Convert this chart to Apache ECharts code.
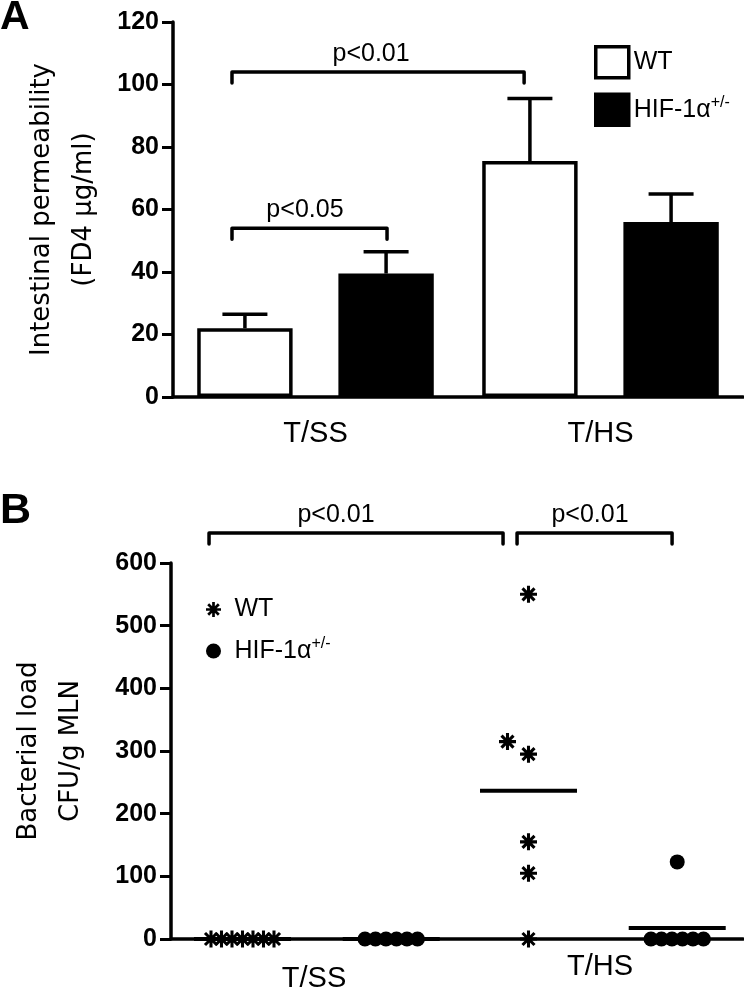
<!DOCTYPE html>
<html><head><meta charset="utf-8">
<script src="https://cdn.jsdelivr.net/npm/echarts@6/dist/echarts.min.js"></script>
<style>html,body{margin:0;padding:0;background:#fff}#c{width:744px;height:995px}</style>
</head><body><div id="c"></div>
<script>
// ---------- Panel A data ----------
const categories = ['T/SS', 'T/HS'];
const seriesNames = ['WT', 'HIF-1α+/-'];
const permWT = [22, 75.5];        // mean FD4 µg/ml
const permWTSem = [4.5, 20];      // error bar (up)
const permHIF = [39.5, 56];
const permHIFSem = [7, 9];
const yTicksA = [0, 20, 40, 60, 80, 100, 120];
const bracketsA = [
  { from: 0.207, to: 1.232, y: 104, text: 'p<0.01', textX: 0.695 },
  { from: 0.207, to: 0.751, y: 54, text: 'p<0.05', textX: 0.463 }
];

// ---------- Panel B data ----------
const loadWT = [
  [0, 0, 0, 0, 0, 0, 0],                 // T/SS
  [550, 315, 295, 155, 105, 0]           // T/HS
];
const loadHIF = [
  [0, 0, 0, 0, 0, 0],                    // T/SS
  [123, 0, 0, 0, 0, 0, 0]                // T/HS
];
const yTicksB = [0, 100, 200, 300, 400, 500, 600];
const bracketsB = [
  { from: 0.133, to: 1.161, y: 648, text: 'p<0.01', textX: 0.577 },
  { from: 1.21, to: 1.752, y: 648, text: 'p<0.01', textX: 1.465 }
];

// ---------- layout constants ----------
const gridA = { left: 173, right: 1, top: 22, height: 375 };
const gridB = { left: 171, right: 1, top: 563, height: 376 };
const W = 744;
const barCatGap = 0.17, barGapR = 0.48;
const barOffset = ((1 - barCatGap) / (2 + barGapR)) * (1 + barGapR) / 2; // in category units
const pxPerXB = (W - gridB.left - gridB.right) / 2;
const pxPerYB = gridB.height / (yTicksB[yTicksB.length - 1] - yTicksB[0]);
const stepPx = 10.5;
const LW = 3.5;
const FONT = '"Liberation Sans", Arial, sans-serif';
const TITLEFONT = '"DejaVu Sans", "Liberation Sans", sans-serif';

function asteriskPath() {
  const L = 10, Wd = 1.8; let d = '';
  for (const deg of [0, 45, 90, 135]) {
    const a = deg * Math.PI / 180, c = Math.cos(a), s = Math.sin(a);
    const pts = [[-Wd, -L], [Wd, -L], [Wd, L], [-Wd, L]].map(([x, y]) => [x * c - y * s, x * s + y * c]);
    d += 'M' + pts.map(p => p[0].toFixed(3) + ' ' + p[1].toFixed(3)).join(' L') + ' Z ';
  }
  return 'path://' + d;
}
const ASTER = asteriskPath();

// simple dodge (beeswarm) of points in one column, returns px offsets
function dodge(values) {
  const idx = values.map((v, i) => i).sort((a, b) => values[a] - values[b]);
  const off = new Array(values.length).fill(0);
  const placed = [];
  let i = 0;
  while (i < idx.length) {
    let j = i;
    while (j < idx.length && values[idx[j]] === values[idx[i]]) j++;
    const n = j - i;
    if (n > 1) {
      for (let k = 0; k < n; k++) {
        off[idx[i + k]] = (k - (n - 1) / 2) * stepPx;
        placed.push({ v: values[idx[i + k]], o: off[idx[i + k]] });
      }
    } else {
      const v = values[idx[i]];
      let chosen = 0;
      for (const c of [0, -2, 2, -4, 4].map(c => c * stepPx)) {
        if (!placed.some(p => Math.abs(p.v - v) * pxPerYB < 16 && Math.abs(p.o - c) < 2 * stepPx * 0.9)) { chosen = c; break; }
      }
      off[idx[i]] = chosen; placed.push({ v, o: chosen });
    }
    i = j;
  }
  return off;
}
const groupShift = [-0.26, 0.26];
function groupCenter(ci, gi) { return ci + 0.51 + groupShift[gi]; }
function scatterData(arrs, gi) {
  const out = [];
  arrs.forEach((vals, ci) => {
    const off = dodge(vals);
    vals.forEach((v, k) => out.push([groupCenter(ci, gi) + off[k] / pxPerXB, v]));
  });
  return out;
}
const mean = a => a.reduce((s, v) => s + v, 0) / a.length;
const meanData = [];
[loadWT, loadHIF].forEach((arrs, gi) => arrs.forEach((vals, ci) => meanData.push([groupCenter(ci, gi), mean(vals)])));

// error bar data: [x (value units), mean, top]
const errData = [];
categories.forEach((c, ci) => {
  errData.push([ci + 0.5 - barOffset, permWT[ci], permWT[ci] + permWTSem[ci]]);
  errData.push([ci + 0.5 + barOffset, permHIF[ci], permHIF[ci] + permHIFSem[ci]]);
});

function bracketRender(list) {
  return function (params, api) {
    const b = list[params.dataIndex];
    const p1 = api.coord([b.from, b.y]), p2 = api.coord([b.to, b.y]);
    const tx = api.coord([b.textX, b.y]);
    const tick = 11;
    return {
      type: 'group', children: [
        { type: 'polyline', shape: { points: [[p1[0], p1[1] + tick], [p1[0], p1[1]], [p2[0], p2[1]], [p2[0], p2[1] + tick]] },
          style: { stroke: '#000', lineWidth: LW, fill: 'none', lineJoin: 'round', lineCap: 'round' } },
        { type: 'text', style: { text: b.text, x: tx[0], y: p1[1] - 18, align: 'center', verticalAlign: 'middle',
          fontSize: 25, fontFamily: FONT, fill: '#000' } }
      ]
    };
  };
}

const richLegend = {
  a: { fontSize: 25, fontFamily: FONT, color: '#000', lineHeight: 30 },
  s: { fontSize: 16, fontFamily: FONT, color: '#000', verticalAlign: 'top', lineHeight: 14 }
};
function legendFmt(n) {
  if (n === 'HIF-1α+/-') return '{a|HIF-1α}{s|+/-}';
  return '{a|' + n + '}';
}

const yAxisCommon = {
  type: 'value',
  axisLine: { show: true, lineStyle: { color: '#000', width: LW } },
  axisTick: { show: true, length: 11, lineStyle: { color: '#000', width: 3 } },
  axisLabel: { margin: 14, color: '#000', fontSize: 25, fontWeight: 'bold', fontFamily: FONT },
  splitLine: { show: false },
  nameLocation: 'middle', nameRotate: 90,
  nameTextStyle: { fontFamily: TITLEFONT, fontSize: 26, lineHeight: 42, color: '#000' }
};

const option = {
  backgroundColor: '#fff',
  animation: false,
  grid: [
    { left: gridA.left, right: gridA.right, top: gridA.top, height: gridA.height },
    { left: gridB.left, right: gridB.right, top: gridB.top, height: gridB.height }
  ],
  xAxis: [
    { type: 'category', gridIndex: 0, data: categories,
      axisLine: { lineStyle: { color: '#000', width: LW } }, axisTick: { show: false },
      axisLabel: { margin: 22, color: '#000', fontSize: 29, fontFamily: FONT } },
    { type: 'value', gridIndex: 0, min: 0, max: 2, show: false },
    { type: 'category', gridIndex: 1, data: categories,
      axisLine: { lineStyle: { color: '#000', width: LW } }, axisTick: { show: false },
      axisLabel: { margin: 13, color: '#000', fontSize: 29, fontFamily: FONT,
        formatter: v => v === 'T/SS' ? '{lo|' + v + '}' : '{hi|' + v + '}',
        rich: { lo: { fontSize: 29, fontFamily: FONT, color: '#000', padding: [12, 0, 0, 0] },
                hi: { fontSize: 29, fontFamily: FONT, color: '#000' } } } },
    { type: 'value', gridIndex: 1, min: 0, max: 2, show: false }
  ],
  yAxis: [
    Object.assign({}, yAxisCommon, { gridIndex: 0, min: yTicksA[0], max: yTicksA[yTicksA.length - 1], interval: 20,
      name: 'Intestinal permeability\n(FD4 μg/ml)', nameGap: 68 }),
    Object.assign({}, yAxisCommon, { gridIndex: 1, min: yTicksB[0], max: yTicksB[yTicksB.length - 1], interval: 100,
      name: 'Bacterial load\nCFU/g MLN', nameGap: 79 })
  ],
  legend: [
    { orient: 'vertical', left: 589, top: 40, itemWidth: 33, itemHeight: 31, itemGap: 13, selectedMode: false,
      formatter: legendFmt, textStyle: { rich: richLegend },
      data: [
        { name: 'WT', icon: 'rect', itemStyle: { color: '#fff', borderColor: '#000', borderWidth: LW, opacity: 1 } },
        { name: 'HIF-1α+/-', icon: 'rect', itemStyle: { color: '#000', borderColor: '#000', borderWidth: LW, opacity: 1 } }
      ] },
    { orient: 'vertical', left: 201, top: 592, itemWidth: 32, itemHeight: 15, itemGap: 14, selectedMode: false,
      symbolKeepAspect: true, formatter: legendFmt, textStyle: { rich: richLegend },
      data: [
        { name: 'WT', icon: ASTER, itemStyle: { color: '#000', borderWidth: 0, opacity: 1 } },
        { name: 'HIF-1α+/-', icon: 'circle', itemStyle: { color: '#000', borderWidth: 0, opacity: 1 } }
      ] }
  ],
  graphic: [
    { type: 'text', x: 0, y: 18, style: { text: 'A', fontSize: 41, fontWeight: 'bold', fontFamily: FONT, fill: '#000', verticalAlign: 'middle' } },
    { type: 'text', x: 0, y: 511, style: { text: 'B', fontSize: 43, fontWeight: 'bold', fontFamily: FONT, fill: '#000', verticalAlign: 'middle' } }
  ],
  series: [
    { name: seriesNames[0], type: 'bar', xAxisIndex: 0, yAxisIndex: 0, data: permWT,
      barCategoryGap: (barCatGap * 100) + '%', barGap: (barGapR * 100) + '%',
      itemStyle: { color: '#fff', borderColor: '#000', borderWidth: LW } },
    { name: seriesNames[1], type: 'bar', xAxisIndex: 0, yAxisIndex: 0, data: permHIF,
      barCategoryGap: (barCatGap * 100) + '%', barGap: (barGapR * 100) + '%',
      itemStyle: { color: '#000', borderColor: '#000', borderWidth: 0 } },
    { type: 'custom', xAxisIndex: 1, yAxisIndex: 0, data: errData, z: 5,
      renderItem: function (params, api) {
        const x = api.value(0);
        const p1 = api.coord([x, api.value(1)]), p2 = api.coord([x, api.value(2)]);
        const cap = 22.5;
        return { type: 'group', children: [
          { type: 'line', shape: { x1: p1[0], y1: p1[1], x2: p2[0], y2: p2[1] }, style: { stroke: '#000', lineWidth: LW } },
          { type: 'line', shape: { x1: p2[0] - cap, y1: p2[1], x2: p2[0] + cap, y2: p2[1] }, style: { stroke: '#000', lineWidth: LW } }
        ] };
      } },
    { type: 'custom', xAxisIndex: 1, yAxisIndex: 0, data: bracketsA.map(b => [b.from, b.y]), clip: false,
      renderItem: bracketRender(bracketsA) },
    { name: seriesNames[0], type: 'scatter', xAxisIndex: 3, yAxisIndex: 1, data: scatterData(loadWT, 0),
      symbol: ASTER, symbolSize: 17, clip: false, itemStyle: { color: '#000', opacity: 1 }, z: 4 },
    { name: seriesNames[1], type: 'scatter', xAxisIndex: 3, yAxisIndex: 1, data: scatterData(loadHIF, 1),
      symbol: 'circle', symbolSize: 15, clip: false, itemStyle: { color: '#000', opacity: 1 }, z: 4 },
    { type: 'custom', xAxisIndex: 3, yAxisIndex: 1, data: meanData, clip: false, z: 3,
      renderItem: function (params, api) {
        const half = 48.5 / pxPerXB;
        const a = api.coord([api.value(0) - half, api.value(1)]), b = api.coord([api.value(0) + half, api.value(1)]);
        return { type: 'line', shape: { x1: a[0], y1: a[1], x2: b[0], y2: b[1] }, style: { stroke: '#000', lineWidth: 4 } };
      } },
    { type: 'custom', xAxisIndex: 3, yAxisIndex: 1, data: bracketsB.map(b => [b.from, b.y]), clip: false,
      renderItem: bracketRender(bracketsB) }
  ]
};
const chart = echarts.init(document.getElementById('c'), null, { renderer: 'canvas' });
chart.setOption(option);
</script>
</body></html>
